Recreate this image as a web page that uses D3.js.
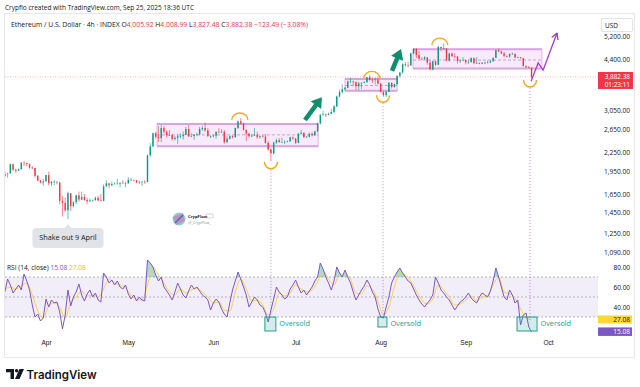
<!DOCTYPE html>
<meta charset="utf-8">
<style>
body { margin: 0; background: #fff; }
svg { font-family: "Open Sans", "Noto Sans", sans-serif; }
</style>
<body>
<script src="https://cdn.jsdelivr.net/npm/d3@7"></script>
<script>

// ---- data (daily bars from 17 Mar 2025) ----
var firstOpen = 1890;
var closes = [
  1925,1930,2060,1980,1965,1985,2085,2080,2065,2010,2005,1895,1830,1805,1820,
  1905,1795,1815,1815,1805,1580,1555,1475,1670,1520,1565,1645,1595,1625,1590,1575,1585,1590,1615,1585,1580,1755,1795,1770,1785,1790,1790,1800,1795,1795,
  1840,1840,1835,1805,1815,1815,1810,2200,2345,2580,2515,2490,2680,2610,2545,2545,2475,2495,2525,2525,2550,2660,2525,2530,2550,2560,2660,2680,2635,2530,2530,
  2535,2605,2595,2610,2420,2480,2525,2510,2680,2815,2770,2645,2575,2525,2535,2550,2510,2525,2520,2405,2295,2230,2410,2455,2420,2420,2425,2435,2505,2485,
  2405,2570,2590,2510,2515,2570,2545,2615,2770,2950,2960,2945,2970,3010,3135,3370,3480,3550,3590,3760,3760,3740,3630,3705,3720,3740,3875,3800,3795,3810,3700,
  3485,3400,3490,3720,3610,3685,3915,4010,4260,4230,4220,4610,4760,4550,4430,4415,4475,4310,4100,4350,4240,4830,4780,4780,4380,4600,4510,4505,4360,4370,4390,
  4320,4325,4450,4290,4300,4275,4305,4305,4310,4350,4460,4715,4670,4605,4525,4500,4590,4590,4470,4480,4450,4200,4165,4150,3882.38
];
var highs = [
  1955,1935,2070,2070,1995,2000,2090,2105,2075,2070,2035,2010,1905,1840,1850,
  1910,1955,1825,1840,1820,1810,1640,1620,1690,1670,1575,1650,1690,1690,1660,1615,1610,1595,1630,1640,1660,1780,1835,1795,1815,1805,1855,1810,1835,1815,
  1875,1865,1840,1840,1830,1825,1835,2210,2400,2590,2610,2720,2740,2720,2640,2640,2570,2530,2555,2580,2620,2700,2740,2580,2560,2590,2700,2720,2790,2680,2545,
  2550,2620,2680,2660,2640,2525,2540,2540,2690,2830,2880,2790,2650,2580,2560,2680,2610,2535,2545,2560,2440,2310,2430,2480,2495,2500,2450,2445,2515,2520,
  2495,2590,2640,2595,2530,2590,2600,2630,2790,2965,3040,2975,2995,3080,3160,3390,3545,3680,3610,3785,3860,3780,3760,3750,3740,3765,3880,3940,3870,3860,3880,
  3720,3500,3500,3740,3730,3705,3930,4030,4290,4330,4330,4630,4790,4790,4680,4480,4510,4480,4380,4370,4360,4870,4830,4950,4780,4630,4640,4620,4520,4400,4480,
  4400,4390,4480,4470,4480,4310,4320,4340,4380,4390,4470,4730,4770,4700,4660,4520,4600,4640,4620,4500,4490,4460,4230,4200,4160
];
var lows = [
  1885,1870,1925,1960,1935,1965,1980,2035,2030,1995,1990,1870,1820,1795,1765,
  1815,1770,1760,1770,1780,1540,1410,1460,1385,1470,1505,1545,1570,1590,1580,1540,1565,1575,1580,1575,1575,1575,1750,1730,1755,1780,1780,1745,1790,1745,
  1790,1830,1820,1795,1785,1760,1790,1810,2170,2340,2480,2420,2420,2575,2500,2530,2450,2450,2390,2490,2465,2550,2510,2510,2460,2525,2545,2625,2610,2510,2490,
  2505,2480,2580,2590,2390,2400,2465,2485,2495,2660,2745,2630,2440,2500,2510,2530,2475,2480,2505,2395,2270,2110,2210,2390,2410,2410,2385,2415,2420,2460,
  2385,2400,2560,2490,2500,2505,2520,2530,2600,2755,2930,2900,2940,2970,2990,3120,3345,3440,3520,3580,3710,3630,3530,3530,3560,3710,3720,3780,3720,3680,3680,
  3470,3360,3355,3480,3570,3590,3670,3860,3980,4180,4160,4210,4580,4450,4420,4400,4410,4240,4080,4070,4210,4240,4680,4740,4350,4340,4500,4450,4280,4300,4370,
  4250,4270,4310,4260,4270,4260,4260,4270,4290,4300,4340,4450,4650,4580,4480,4480,4460,4560,4450,4450,4440,4190,4150,4140,3827.48
];

// RSI(14), one value a day from 17 Mar
var rsi = [
  55,68,62,54,58,62,57,73,66,57,
  42,30,33,26,29,48,40,47,44,45,
  35,18,32,57,41,50,55,63,52,46,
  53,57,50,54,47,45,74,70,64,67,
  62,66,60,58,62,53,48,52,46,50,
  47,46,87,84,80,72,66,70,60,56,
  52,47,55,64,58,52,49,56,62,58,
  60,56,52,50,47,37,44,48,45,38,
  33,30,44,57,66,75,68,60,52,40,
  45,50,47,42,40,34,25,37,48,60,
  55,52,48,50,58,62,67,60,54,57,
  52,56,60,66,70,84,78,70,64,57,
  66,80,74,70,77,70,64,55,47,52,
  57,61,67,62,55,50,38,30,29,40,
  50,64,70,75,79,74,70,66,64,58,
  52,47,43,40,44,47,52,70,64,57,
  54,50,47,42,37,41,45,47,50,54,
  49,46,44,50,54,52,50,56,66,79,
  70,60,50,47,57,52,44,47,22,32,
  34,20,15.08
];
// RSI moving average, one value every 2 days from 17 Mar
var rsiMA = [
  58,60,58,61,64,52,36,29,41,44,
  40,29,44,50,56,51,52,50,58,68,
  64,62,59,52,48,47,62,80,72,64,
  55,52,58,54,57,59,55,50,44,45,
  37,36,55,68,58,46,47,42,32,38,
  54,51,54,62,58,55,57,65,76,68,
  62,73,73,68,54,53,61,58,46,32,
  40,60,74,72,66,56,47,43,48,62,
  57,50,42,43,47,51,46,50,51,62,
  70,55,53,49,38,30,27.08
];

var months = ["2025-04-01","2025-05-01","2025-06-01","2025-07-01","2025-08-01","2025-09-01","2025-10-01"];
var priceTicks = [5200,4400,3050,2650,2250,1950,1650,1450,1250,1090];
var rsiTicks = [80,60,40];
var lastPrice = 3882.38, countdown = "01:23:11";
var rsiLast = 15.08, rsiMALast = 27.08;

// drawings, in date / price units
var zones = [
  ["2025-05-11T11:00Z","2025-07-09T05:00Z",2760,2550,2350],
  ["2025-07-19T00:00Z","2025-08-07T00:00Z",3826,3650,3510],
  ["2025-08-12T19:00Z","2025-09-28T19:00Z",4750,4390,4130]
];
var peaks = [["2025-06-10T16:00Z",2841],["2025-07-28T19:00Z",3843],["2025-08-22T14:00Z",4890]];
var troughs = [["2025-06-22T00:00Z",2098],["2025-08-01T21:00Z",3400],["2025-09-24T11:00Z",3798]];
var oversold = [["2025-06-19T19:00Z","2025-06-23T19:00Z",16],["2025-07-31T00:00Z","2025-08-03T07:00Z",20],["2025-09-19T17:00Z","2025-09-27T00:00Z",16]];
var greenArrows = [["2025-07-04T10:00Z",2841,"2025-07-10T14:00Z",3353],["2025-08-05T03:00Z",4060,"2025-08-08T10:00Z",4752]];
var projection = [["2025-09-24T20:00Z",3760],["2025-09-27T10:00Z",4300],["2025-09-29T05:00Z",4080],["2025-10-04T07:00Z",5340]];
var shakeOut = ["2025-04-09T00:00Z",1385,"Shake out 9 April"];

// ---- setup ----
var W = 640, H = 387;
var t0 = new Date(Date.UTC(2025, 2, 17));
function day(i) { return d3.utcDay.offset(t0, i); }
var P = d3.isoParse;

var x = d3.scaleUtc().domain([P(months[0]), P(months[6])]).range([46, 548]);
var y = d3.scaleLog().domain([1090, 5200]).range([252, 36.7]);
var yr = d3.scaleLinear().domain([30, 70]).range([317, 277]);

var green = "#089981", red = "#f23645", purple = "#7e57c2", ink = "#131722";

var svg = d3.select("body").append("svg").attr("width", W).attr("height", H);
var defs = svg.append("defs");
defs.append("clipPath").attr("id", "pane").append("rect").attr("x", 5).attr("y", 28).attr("width", 593).attr("height", 232);
defs.append("clipPath").attr("id", "rpane").append("rect").attr("x", 5).attr("y", 260).attr("width", 593).attr("height", 78);
defs.append("clipPath").attr("id", "ob").append("rect").attr("x", 5).attr("y", 255).attr("width", 593).attr("height", yr(70) - 255);

// frame
svg.append("rect").attr("x", 4.5).attr("y", 13.5).attr("width", 630).attr("height", 344)
  .attr("fill", "none").attr("stroke", "#e6e8ee");

svg.append("text").attr("x", 5).attr("y", 10).attr("font-size", 6.8).attr("fill", ink)
  .attr("textLength", 189).attr("lengthAdjust", "spacingAndGlyphs")
  .text("Crypflo created with TradingView.com, Sep 25, 2025 18:36 UTC");

var head = svg.append("text").attr("x", 11).attr("y", 26.5).attr("font-size", 6.6).attr("fill", ink)
  .attr("textLength", 297).attr("lengthAdjust", "spacingAndGlyphs");
head.append("tspan").text("Ethereum / U.S. Dollar · 4h · INDEX  O");
head.append("tspan").attr("fill", red).text("4,005.92");
head.append("tspan").text("  H");
head.append("tspan").attr("fill", red).text("4,008.99");
head.append("tspan").text("  L");
head.append("tspan").attr("fill", red).text("3,827.48");
head.append("tspan").text("  C");
head.append("tspan").attr("fill", red).text("3,882.38  −123.49 (−3.08%)");

// ---- price pane ----
var pane = svg.append("g").attr("clip-path", "url(#pane)");

pane.append("line").attr("x1", 5).attr("x2", 598).attr("y1", y(lastPrice)).attr("y2", y(lastPrice))
  .attr("stroke", red).attr("stroke-opacity", 0.45).attr("stroke-width", 0.8).attr("stroke-dasharray", "1,1.5");

// zones
zones.forEach(function(z) {
  var x0 = x(P(z[0])), x1 = x(P(z[1]));
  pane.append("rect").attr("x", x0).attr("y", y(z[2])).attr("width", x1 - x0).attr("height", y(z[4]) - y(z[2]))
    .attr("fill", "#e7b9ee").attr("fill-opacity", 0.3).attr("stroke", "#d596df").attr("stroke-width", 0.7);
  [z[2], z[4]].forEach(function(p) {
    pane.append("line").attr("x1", x0).attr("x2", x1).attr("y1", y(p)).attr("y2", y(p))
      .attr("stroke", "#d8a3e2").attr("stroke-width", 2);
  });
  pane.append("line").attr("x1", x0).attr("x2", x1).attr("y1", y(z[3])).attr("y2", y(z[3]))
    .attr("stroke", "#c27ad0").attr("stroke-width", 0.7).attr("stroke-dasharray", "3,2");
});

// candles
var candles = closes.map(function(c, i) {
  var o = i ? closes[i - 1] : firstOpen;
  return { t: day(i), o: o, c: c, h: Math.max(highs[i], o, c), l: Math.min(lows[i], o, c) };
});
var cg = pane.append("g");
cg.selectAll("line").data(candles).enter().append("line")
  .attr("x1", function(d) { return x(d.t); }).attr("x2", function(d) { return x(d.t); })
  .attr("y1", function(d) { return y(d.h); }).attr("y2", function(d) { return y(d.l); })
  .attr("stroke", function(d) { return d.c >= d.o ? green : red; }).attr("stroke-width", 0.6);
cg.selectAll("rect").data(candles).enter().append("rect")
  .attr("x", function(d) { return x(d.t) - 0.7; }).attr("width", 1.4)
  .attr("y", function(d) { return y(Math.max(d.o, d.c)); })
  .attr("height", function(d) { return Math.max(0.6, Math.abs(y(d.o) - y(d.c))); })
  .attr("fill", function(d) { return d.c >= d.o ? green : red; });

// arcs over peaks and under troughs
var orange = "#f5a623";
peaks.forEach(function(p) {
  var cx = x(P(p[0])), cy = y(p[1]);
  pane.append("path").attr("d", "M" + (cx - 8) + "," + cy + " A8,7 0 0 1 " + (cx + 8) + "," + cy)
    .attr("fill", "none").attr("stroke", orange).attr("stroke-width", 1.4);
});
troughs.forEach(function(p) {
  var cx = x(P(p[0])), cy = y(p[1]);
  pane.append("path").attr("d", "M" + (cx - 6.5) + "," + cy + " A6.5,7 0 0 0 " + (cx + 6.5) + "," + cy)
    .attr("fill", "none").attr("stroke", orange).attr("stroke-width", 1.4);
});

// green arrows
greenArrows.forEach(function(a) {
  var xa = x(P(a[0])), ya = y(a[1]), xb = x(P(a[2])), yb = y(a[3]);
  var L = Math.hypot(xb - xa, yb - ya), ang = Math.atan2(yb - ya, xb - xa) * 180 / Math.PI;
  var hl = 10, sw = 2.3, hw = 6.5;
  var pts = [[0, -sw], [L - hl, -sw], [L - hl, -hw], [L, 0], [L - hl, hw], [L - hl, sw], [0, sw]];
  svg.append("polygon").attr("points", pts.map(function(q) { return q.join(","); }).join(" "))
    .attr("transform", "translate(" + xa + "," + ya + ") rotate(" + ang + ")")
    .attr("fill", "#0f8f6c");
});

// projection zigzag
var pline = d3.line().x(function(d) { return x(P(d[0])); }).y(function(d) { return y(d[1]); });
svg.append("path").attr("d", pline(projection)).attr("fill", "none").attr("stroke", "#a03ad0").attr("stroke-width", 1.3);
(function() {
  var a = projection[projection.length - 2], b = projection[projection.length - 1];
  var xa = x(P(a[0])), ya = y(a[1]), xb = x(P(b[0])), yb = y(b[1]);
  var ang = Math.atan2(yb - ya, xb - xa);
  [-0.5, 0.5].forEach(function(s) {
    svg.append("line").attr("x1", xb).attr("y1", yb)
      .attr("x2", xb - 7 * Math.cos(ang + s)).attr("y2", yb - 7 * Math.sin(ang + s))
      .attr("stroke", "#a03ad0").attr("stroke-width", 1.3);
  });
})();

// shake-out callout
(function() {
  var ax = x(P(shakeOut[0])), ay = y(shakeOut[1]);
  var g = svg.append("g");
  g.append("rect").attr("x", ax - 35.5).attr("y", ay + 9).attr("width", 71).attr("height", 20).attr("rx", 4)
    .attr("fill", "#e1e3e8");
  g.append("path").attr("d", "M" + (ax - 4) + "," + (ay + 9.5) + " L" + ax + "," + (ay + 5) + " L" + (ax + 4) + "," + (ay + 9.5) + "Z")
    .attr("fill", "#e1e3e8");
  g.append("text").attr("x", ax).attr("y", ay + 21.5).attr("text-anchor", "middle")
    .attr("font-size", 7.3).attr("fill", ink).text(shakeOut[2]);
})();

// CrypFlow badge
(function() {
  var g = svg.append("g").attr("transform", "translate(179,219)");
  g.append("circle").attr("r", 6.5).attr("fill", "#7fd8c8");
  g.append("path").attr("d", "M-6,-2 L4,-6 L6,2 L-3,6Z").attr("fill", "#e66fb4").attr("opacity", 0.7);
  g.append("path").attr("d", "M-4,4 L4,-4").attr("stroke", "#3b6fd8").attr("stroke-width", 1.5);
  g.append("text").attr("x", 9).attr("y", -1.5).attr("font-size", 4.2).attr("font-weight", 700).attr("fill", ink).text("CrypFlow");
  g.append("rect").attr("x", 27).attr("y", -5).attr("width", 7).attr("height", 4).attr("fill", "none").attr("stroke", "#999").attr("stroke-width", 0.4);
  g.append("text").attr("x", 9).attr("y", 4.5).attr("font-size", 3.8).attr("fill", "#888").text("@_CrypFlow_");
})();

// dotted links from the troughs to the RSI boxes
troughs.forEach(function(p) {
  var cx = x(P(p[0]));
  svg.append("line").attr("x1", cx).attr("x2", cx).attr("y1", y(p[1]) + 8).attr("y2", yr(30))
    .attr("stroke", "#c27ad0").attr("stroke-width", 0.9).attr("stroke-dasharray", "1,2");
});

// ---- price axis ----
var ay = svg.append("g").attr("transform", "translate(630,0)")
  .call(d3.axisRight(y).tickValues(priceTicks).tickFormat(d3.format(",.2f")).tickSize(0));
ay.select(".domain").remove();
ay.selectAll("text").attr("x", 0).attr("text-anchor", "end").attr("font-size", 6.6).attr("fill", ink)
  .attr("font-family", "'Open Sans', sans-serif");

svg.append("rect").attr("x", 601.5).attr("y", 18.5).attr("width", 31).attr("height", 13).attr("rx", 1.5)
  .attr("fill", "#fff").attr("stroke", "#e0e3eb");
svg.append("text").attr("x", 605).attr("y", 27.5).attr("font-size", 6.4).attr("fill", ink).text("USD");

svg.append("rect").attr("x", 598).attr("y", y(lastPrice) - 5).attr("width", 35).attr("height", 17).attr("fill", red);
svg.append("text").attr("x", 630).attr("y", y(lastPrice) + 1.8).attr("text-anchor", "end")
  .attr("font-size", 6.4).attr("fill", "#fff").text(d3.format(",.2f")(lastPrice));
svg.append("text").attr("x", 630).attr("y", y(lastPrice) + 9.6).attr("text-anchor", "end")
  .attr("font-size", 6.4).attr("fill", "#fff").text(countdown);

// ---- RSI pane ----
var rp = svg.append("g");
rp.append("rect").attr("x", 5).attr("width", 593).attr("y", yr(70)).attr("height", yr(30) - yr(70))
  .attr("fill", purple).attr("fill-opacity", 0.1);
[70, 50, 30].forEach(function(v) {
  rp.append("line").attr("x1", 5).attr("x2", 598).attr("y1", yr(v)).attr("y2", yr(v))
    .attr("stroke", "#9598a1").attr("stroke-width", 0.7).attr("stroke-dasharray", "2,2");
});

var rline = d3.line().x(function(d, i) { return x(day(i)); }).y(function(d) { return yr(d); });
var rarea = d3.area().x(function(d, i) { return x(day(i)); }).y0(yr(70)).y1(function(d) { return yr(d); });
rp.append("path").attr("d", rarea(rsi)).attr("fill", green).attr("fill-opacity", 0.35).attr("clip-path", "url(#ob)");

var maLine = d3.line().x(function(d, i) { return x(day(i * 2)); }).y(function(d) { return yr(d); }).curve(d3.curveMonotoneX);
rp.append("path").attr("d", maLine(rsiMA)).attr("fill", "none").attr("stroke", "#f7cf4f").attr("stroke-width", 1)
  .attr("clip-path", "url(#rpane)");
rp.append("path").attr("d", rline(rsi)).attr("fill", "none").attr("stroke", purple).attr("stroke-width", 1)
  .attr("clip-path", "url(#rpane)");

oversold.forEach(function(b) {
  var x0 = x(P(b[0])), x1 = x(P(b[1]));
  rp.append("rect").attr("x", x0).attr("y", yr(30)).attr("width", x1 - x0).attr("height", yr(b[2]) - yr(30))
    .attr("fill", "#26a69a").attr("fill-opacity", 0.2).attr("stroke", "#22a08e").attr("stroke-width", 1);
  rp.append("text").attr("x", x1 + 3.5).attr("y", yr(30) + 9).attr("font-size", 7.3).attr("fill", "#22a08e").text("Oversold");
});

var rl = svg.append("text").attr("x", 7).attr("y", 269.5).attr("font-size", 6.6).attr("fill", ink);
rl.append("tspan").text("RSI (14, close)  ");
rl.append("tspan").attr("fill", purple).text(d3.format(".2f")(rsiLast) + "  ");
rl.append("tspan").attr("fill", "#e8b923").text(d3.format(".2f")(rsiMALast));

var ar = svg.append("g").attr("transform", "translate(630,0)")
  .call(d3.axisRight(yr).tickValues(rsiTicks).tickFormat(d3.format(".2f")).tickSize(0));
ar.select(".domain").remove();
ar.selectAll("text").attr("x", 0).attr("text-anchor", "end").attr("font-size", 6.6).attr("fill", ink);

svg.append("rect").attr("x", 598).attr("y", yr(rsiMALast) - 4.5).attr("width", 34).attr("height", 8).attr("fill", "#fdd835");
svg.append("text").attr("x", 630).attr("y", yr(rsiMALast) + 2.3).attr("text-anchor", "end").attr("font-size", 6.6).attr("fill", ink)
  .text(d3.format(".2f")(rsiMALast));
svg.append("rect").attr("x", 598).attr("y", yr(rsiLast) - 4.5).attr("width", 34).attr("height", 8.5).attr("fill", purple);
svg.append("text").attr("x", 630).attr("y", yr(rsiLast) + 2.3).attr("text-anchor", "end").attr("font-size", 6.6).attr("fill", "#fff")
  .text(d3.format(".2f")(rsiLast));

// ---- time axis ----
var ax = svg.append("g").attr("transform", "translate(0,337.5)")
  .call(d3.axisBottom(x).tickValues(months.map(P)).tickFormat(d3.utcFormat("%b")).tickSize(0));
ax.select(".domain").remove();
ax.selectAll("text").attr("font-size", 6.6).attr("fill", ink);

// ---- TradingView mark ----
var lg = svg.append("g").attr("fill", ink);
lg.append("path").attr("d", "M6,369 H14 V379 H10.5 V372.2 H6Z");
lg.append("circle").attr("cx", 16.6).attr("cy", 370.8).attr("r", 1.7);
lg.append("path").attr("d", "M19.5,369 H24 L19.5,379 H15Z");
svg.append("text").attr("x", 26.5).attr("y", 378.5).attr("font-size", 11.5).attr("font-weight", 600)
  .attr("fill", ink).attr("font-family", "Inter, 'Open Sans', sans-serif").text("TradingView");

</script>
</body>
